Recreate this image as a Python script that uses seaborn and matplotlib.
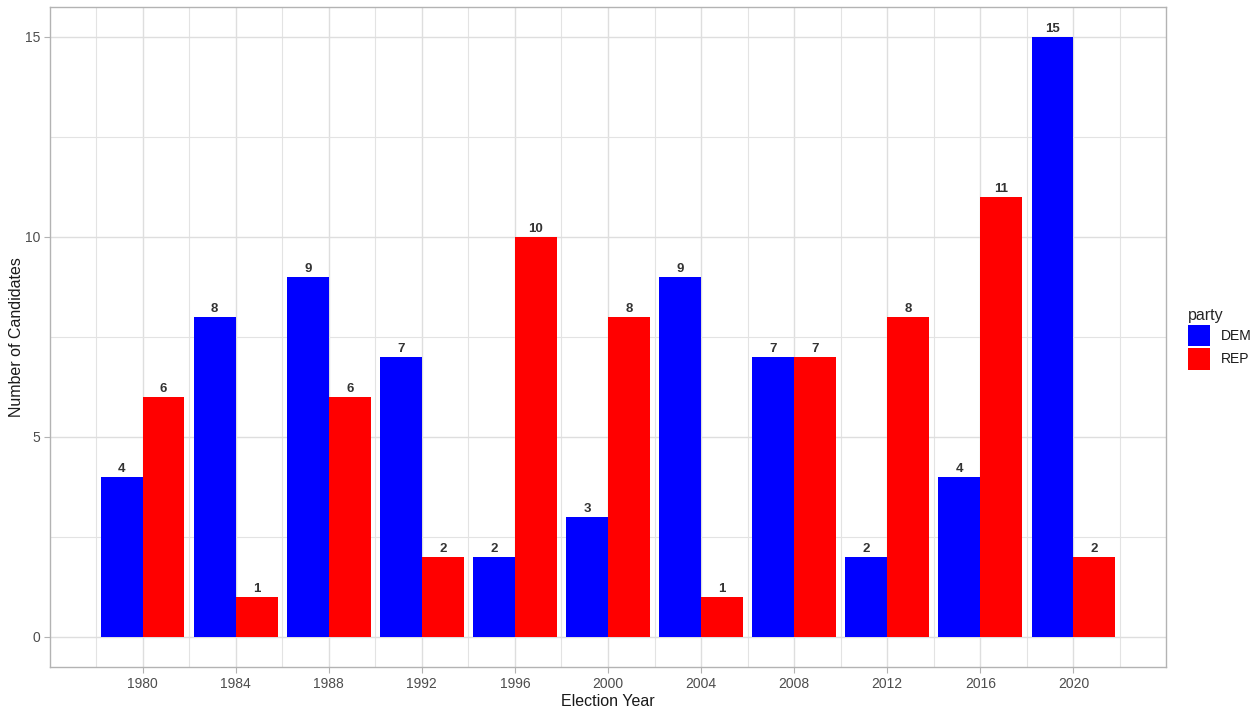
import matplotlib
matplotlib.use("Agg")
import matplotlib.pyplot as plt
import seaborn as sns
import pandas as pd
import numpy as np
from matplotlib.patches import Patch
from matplotlib.ticker import MultipleLocator

years = [1980, 1984, 1988, 1992, 1996, 2000, 2004, 2008, 2012, 2016, 2020]
dem = [4, 8, 9, 7, 2, 3, 9, 7, 2, 4, 15]
rep = [6, 1, 6, 2, 10, 8, 1, 7, 8, 11, 2]
parties = ["DEM", "REP"]
colors = {"DEM": "#0000FF", "REP": "#FF0000"}

df = pd.DataFrame({
    "year": years * 2,
    "count": dem + rep,
    "party": ["DEM"] * len(years) + ["REP"] * len(years),
})

sns.set_theme(style="white")
plt.rcParams["font.family"] = ["Liberation Sans", "DejaVu Sans"]

fig = plt.figure(figsize=(12.56, 7.08), dpi=100)
ax = fig.add_axes([50 / 1256, 1 - 667 / 708, (1166 - 50) / 1256, (667 - 7) / 708])

sns.barplot(data=df, x="year", y="count", hue="party", hue_order=parties,
            palette=colors, native_scale=True, width=0.9, linewidth=0,
            saturation=1, errorbar=None, ax=ax, legend=False, zorder=3)

for cont in ax.containers:
    ax.bar_label(cont, padding=1.5, fontsize=9.5, color="#333333", fontweight="semibold")

ax.set_xlim(1976.02, 2023.98)
ax.set_ylim(-0.75, 15.75)
ax.set_xticks(years)
ax.set_xticklabels([str(y) for y in years])
ax.xaxis.set_minor_locator(MultipleLocator(4, offset=2))
ax.set_yticks([0, 5, 10, 15])
ax.yaxis.set_minor_locator(MultipleLocator(2.5))
ax.grid(True, which="major", color="#DEDEDE", linewidth=1.0, zorder=0)
ax.grid(True, which="minor", color="#E3E3E3", linewidth=0.8, zorder=0)
ax.set_axisbelow(True)
for s in ax.spines.values():
    s.set_color("#B3B3B3")
    s.set_linewidth(1.0)
ax.tick_params(axis="both", which="major", length=4, width=0.8, color="#B3B3B3",
               labelsize=10, labelcolor="#4D4D4D", bottom=True, left=True, pad=3)
ax.tick_params(axis="both", which="minor", length=0)
ax.set_xlabel("Election Year", fontsize=11.5, color="#1A1A1A", labelpad=2)
ax.set_ylabel("Number of Candidates", fontsize=11.5, color="#1A1A1A", labelpad=1)

handles = [Patch(facecolor=colors[p], edgecolor="none", label=p) for p in parties]
leg = fig.legend(handles=handles, title="party", loc="upper left",
                 bbox_to_anchor=(1175 / 1256, 1 - 295 / 708), frameon=False,
                 fontsize=10, title_fontsize=11.5, handlelength=1.6,
                 handleheight=2.0, labelspacing=0.15, handletextpad=0.8,
                 alignment="left")
for t in leg.get_texts():
    t.set_color("#1A1A1A")

fig.savefig("out.png", dpi=100)
